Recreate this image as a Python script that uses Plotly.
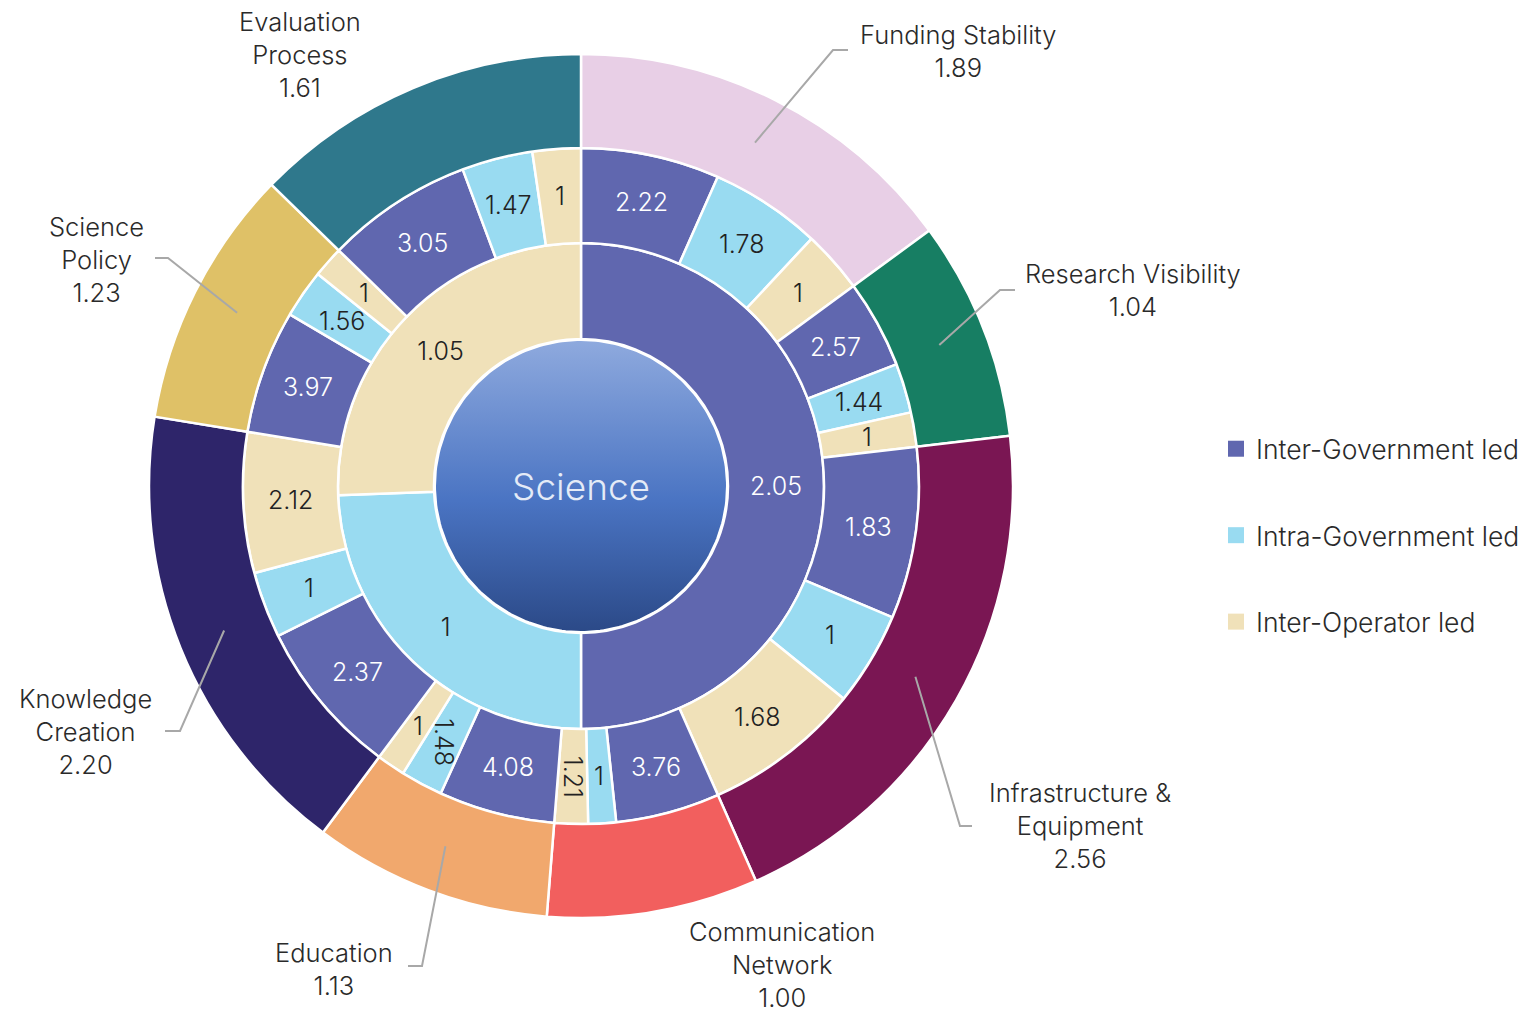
import numpy as np
import plotly.graph_objects as go

# ---------------- data ----------------
core_label = "Science"

types = ["Inter-Government led", "Intra-Government led", "Inter-Operator led"]
type_values = [2.05, 1, 1.05]

domains = ["Funding Stability", "Research Visibility", "Infrastructure &<br>Equipment",
           "Communication<br>Network", "Education", "Knowledge<br>Creation",
           "Science<br>Policy", "Evaluation<br>Process"]
domain_values = [1.89, 1.04, 2.56, 1.00, 1.13, 2.20, 1.23, 1.61]

inter_gov = [2.22, 2.57, 1.83, 3.76, 4.08, 2.37, 3.97, 3.05]
intra_gov = [1.78, 1.44, 1, 1, 1.48, 1, 1.56, 1.47]
inter_op = [1, 1, 1.68, 1.21, 1, 2.12, 1, 1]

# ---------------- styles / layout ----------------
type_colors = ["#6067AF", "#99DBF1", "#F0E1B9"]
type_text_colors = ["#FFFFFF", "#222222", "#222222"]
domain_colors = ["#E8CFE6", "#177E63", "#7A1653", "#F25F5E",
                 "#F1A86D", "#2E256A", "#DFC167", "#2F788C"]

W, H = 1529, 1017
CX, CY = 581, 486
R_CORE, R_MID, R_SUB, R_OUT = 147, 243, 338, 432
FONT = "Inter"
WEIGHT = 300
TXT = "#2a2a2a"
LINE_GREY = "#A8A8A8"
LABEL_SIZE = 25.5
SLICE_SIZE = 25
LEGEND_SIZE = 26.5

# label centre (px) and leader-line elbow/end points (px) per domain
label_layout = [
    dict(pos=(958, 51), elbow=[(833, 50), (848, 50)]),
    dict(pos=(1133, 290), elbow=[(1000, 290), (1015, 290)]),
    dict(pos=(1080, 825), elbow=[(960, 826), (972, 826)]),
    dict(pos=(782, 964), elbow=None),
    dict(pos=(334, 969), elbow=[(422, 966), (408, 966)]),
    dict(pos=(85, 731), elbow=[(180, 731), (165, 731)]),
    dict(pos=(96, 259), elbow=[(168, 258), (155, 258)]),
    dict(pos=(300, 54), elbow=None),
]


def dom(r):
    return dict(x=[(CX - r) / W, (CX + r) / W], y=[1 - (CY + r) / H, 1 - (CY - r) / H])


def polar(r, ang):
    return CX + r * np.sin(ang), CY - r * np.cos(ang)


def fmt(v):
    return f"{v:g}"


fig = go.Figure()

# core circle with vertical gradient
t = np.linspace(0, 2 * np.pi, 241)
fig.add_trace(go.Scatter(
    x=CX + (R_CORE - 1) * np.cos(t), y=CY + (R_CORE - 1) * np.sin(t),
    mode="lines", fill="toself", line=dict(color="white", width=2),
    fillgradient=dict(type="vertical",
                      colorscale=[[0, "#8FAADE"], [0.55, "#4A74C3"], [1, "#2B4987"]],
                      start=CY - R_CORE, stop=CY + R_CORE),
    hoverinfo="skip", showlegend=False))

# ring 2: types
fig.add_trace(go.Pie(
    labels=types, values=type_values, text=[fmt(v) for v in type_values],
    textinfo="text", sort=False, direction="clockwise", rotation=0,
    hole=R_CORE / R_MID, domain=dom(R_MID),
    marker=dict(colors=type_colors, line=dict(color="white", width=2.5)),
    textfont=dict(family=FONT, size=SLICE_SIZE, color=type_text_colors, weight=WEIGHT),
    insidetextorientation="horizontal", showlegend=False, hoverinfo="label+value"))

# ring 3: types within each domain (slice share follows the domain value)
sub_labels, sub_vals, sub_text, sub_cols, sub_tcols = [], [], [], [], []
for i, d in enumerate(domains):
    parts = [inter_gov[i], intra_gov[i], inter_op[i]]
    s = sum(parts)
    for j, p in enumerate(parts):
        sub_labels.append(f"{d.replace('<br>', ' ')} – {types[j]}")
        sub_vals.append(domain_values[i] * p / s)
        sub_text.append(fmt(p))
        sub_cols.append(type_colors[j])
        sub_tcols.append(type_text_colors[j])

fig.add_trace(go.Pie(
    labels=sub_labels, values=sub_vals, text=sub_text,
    textinfo="none", sort=False, direction="clockwise", rotation=0,
    hole=R_MID / R_SUB, domain=dom(R_SUB),
    marker=dict(colors=sub_cols, line=dict(color="white", width=2.5)),
    showlegend=False, hoverinfo="label+text"))

# ring 3 value labels at the slice centres
tot_sub = sum(sub_vals)
r_lab = (R_MID + R_SUB) / 2
cum = 0.0
for v, txt, tc in zip(sub_vals, sub_text, sub_tcols):
    a0 = cum / tot_sub * 2 * np.pi
    cum += v
    a1 = cum / tot_sub * 2 * np.pi
    x, y = polar(r_lab, (a0 + a1) / 2)
    arc = r_lab * (a1 - a0)
    rotate = len(txt) > 1 and arc < 40
    fig.add_annotation(x=x, y=y, xref="x", yref="y", text=txt, showarrow=False,
                       textangle=90 if rotate else 0,
                       font=dict(family=FONT, size=SLICE_SIZE, color=tc, weight=WEIGHT))

# ring 4: domains
fig.add_trace(go.Pie(
    labels=[d.replace("<br>", " ") for d in domains], values=domain_values,
    textinfo="none", sort=False, direction="clockwise", rotation=0,
    hole=R_SUB / R_OUT, domain=dom(R_OUT),
    marker=dict(colors=domain_colors, line=dict(color="white", width=2.5)),
    showlegend=False, hoverinfo="label+value"))

# legend entries
for name, col in zip(types, type_colors):
    fig.add_trace(go.Scatter(x=[None], y=[None], mode="markers", name=name,
                             legendgroup=name,
                             marker=dict(symbol="square", size=16, color=col)))

# outer labels and leader lines
total = sum(domain_values)
cum = 0.0
r_lead = (R_SUB + R_OUT) / 2
for i, d in enumerate(domains):
    mid = (cum + domain_values[i] / 2) / total * 2 * np.pi
    cum += domain_values[i]
    lay = label_layout[i]
    fig.add_annotation(x=lay["pos"][0], y=lay["pos"][1], xref="x", yref="y",
                       text=f"{d}<br>{domain_values[i]:.2f}", showarrow=False,
                       font=dict(family=FONT, size=LABEL_SIZE, color=TXT, weight=WEIGHT),
                       align="center")
    if lay["elbow"]:
        pts = [polar(r_lead, mid)] + lay["elbow"]
        path = "M " + " L ".join(f"{px:.1f},{py:.1f}" for px, py in pts)
        fig.add_shape(type="path", path=path, xref="x", yref="y", layer="above",
                      line=dict(color=LINE_GREY, width=2))

fig.add_annotation(x=CX, y=CY, xref="x", yref="y", text=core_label, showarrow=False,
                   font=dict(family=FONT, size=37, color="#E4EBF7", weight=WEIGHT))

fig.update_layout(
    width=W, height=H, margin=dict(l=0, r=0, t=0, b=0),
    paper_bgcolor="white", plot_bgcolor="white",
    font=dict(family=FONT, color=TXT, weight=WEIGHT),
    xaxis=dict(range=[0, W], visible=False, fixedrange=True),
    yaxis=dict(range=[H, 0], visible=False, fixedrange=True),
    legend=dict(x=1216 / W, y=1 - 425 / H, xanchor="left", yanchor="top",
                font=dict(family=FONT, size=LEGEND_SIZE, color=TXT, weight=WEIGHT),
                tracegroupgap=49, bgcolor="rgba(0,0,0,0)"),
    showlegend=True,
)

fig.write_html("out.html", config={"displayModeBar": False},
               post_script="document.body.style.margin='0';document.body.style.overflow='hidden';")
